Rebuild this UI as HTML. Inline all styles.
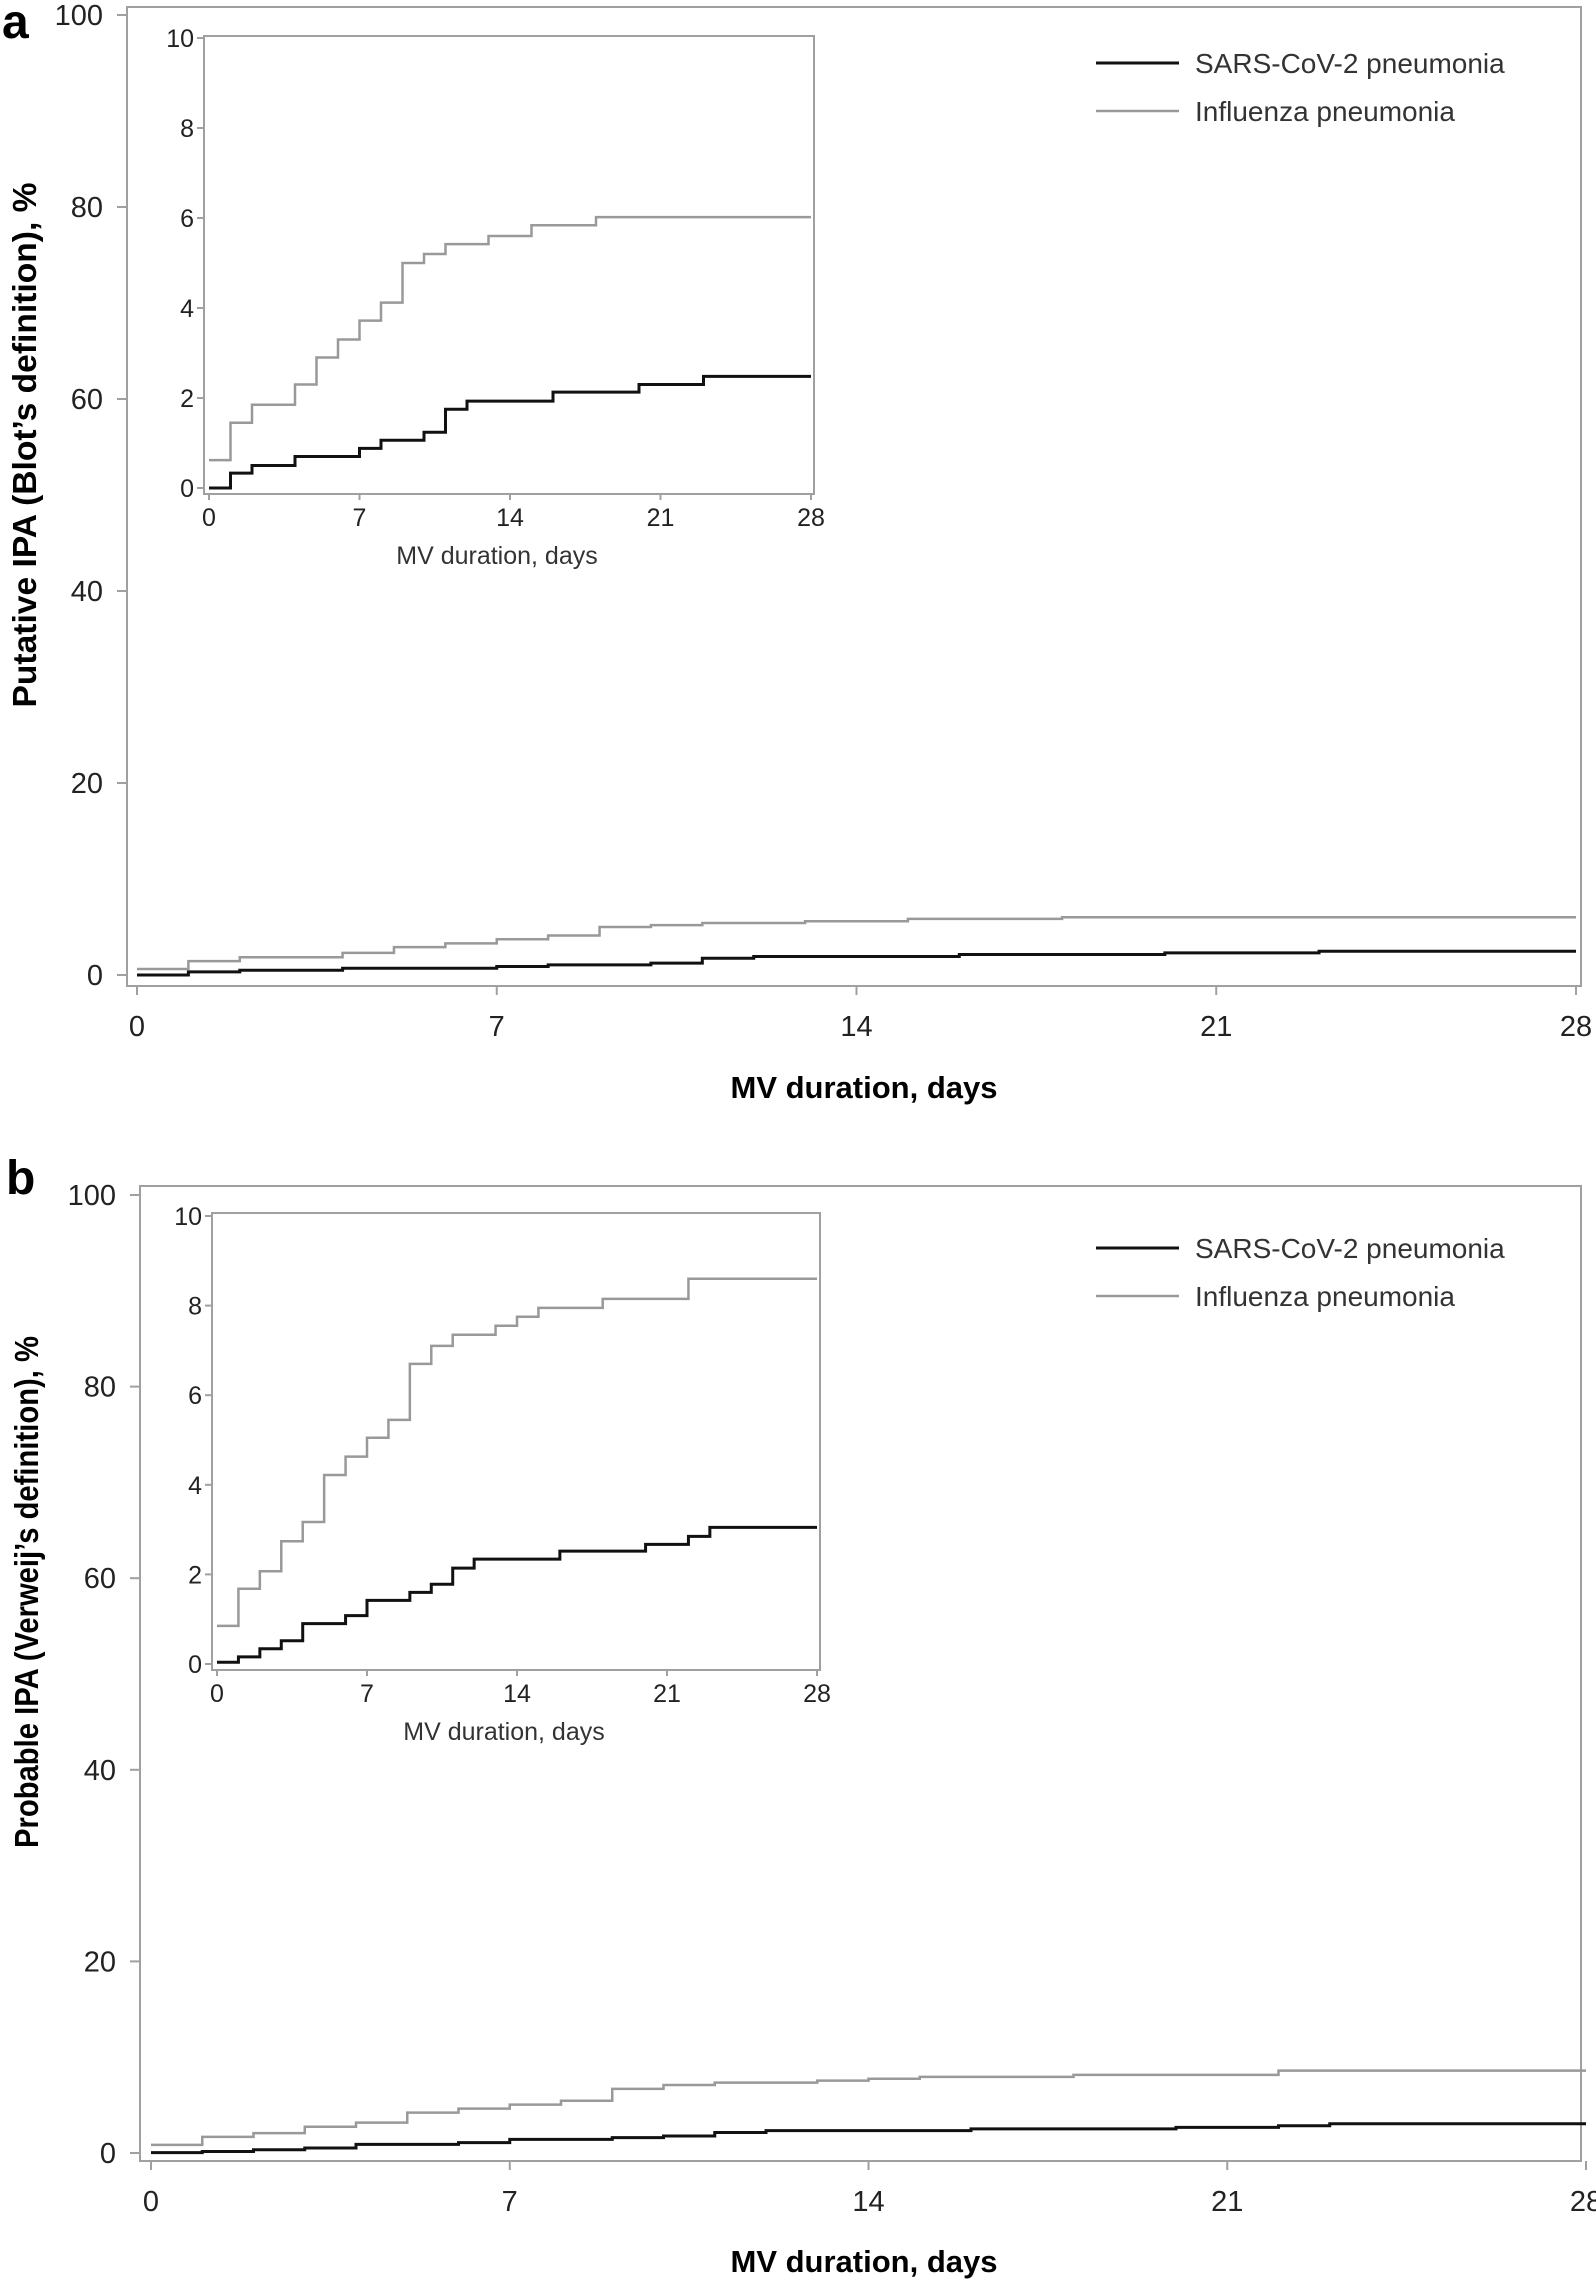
<!DOCTYPE html>
<html><head><meta charset="utf-8">
<style>
html,body{margin:0;padding:0;background:#fff;}
svg{display:block;font-family:"Liberation Sans",sans-serif;}
</style></head>
<body>
<svg id="fig" width="1596" height="2281" viewBox="0 0 1596 2281" xmlns="http://www.w3.org/2000/svg"></svg>
<script>
// ---- data ----
const daysA_flu = [0,1,2,4,5,6,7,8,9,10,11,13,15,18,28];
const valsA_flu = [0.62,1.45,1.85,2.3,2.9,3.3,3.72,4.12,5.0,5.2,5.42,5.6,5.84,6.02,6.02];
const daysA_sars = [0,1,2,4,7,8,10,11,12,16,20,23,28];
const valsA_sars = [0,0.33,0.5,0.7,0.88,1.06,1.24,1.75,1.93,2.13,2.3,2.48,2.48];
const daysB_flu = [0,1,2,3,4,5,6,7,8,9,10,11,13,14,15,18,22,28];
const valsB_flu = [0.85,1.68,2.07,2.74,3.17,4.22,4.63,5.05,5.45,6.7,7.1,7.35,7.55,7.75,7.95,8.15,8.6,8.6];
const daysB_sars = [0,1,2,3,4,6,7,9,10,11,12,16,20,22,23,28];
const valsB_sars = [0.04,0.16,0.34,0.52,0.9,1.08,1.42,1.6,1.78,2.14,2.34,2.52,2.67,2.85,3.05,3.05];
const mainYTicks = [0,20,40,60,80,100];
const insetYTicks = [0,2,4,6,8,10];
const xTicks = [0,7,14,21,28];
const legendLabels = ["SARS-CoV-2 pneumonia","Influenza pneumonia"];

const NS="http://www.w3.org/2000/svg";
const svg=document.getElementById('fig');
function mk(tag,attrs,parent,text){const e=document.createElementNS(NS,tag);for(const k in attrs)e.setAttribute(k,attrs[k]);if(text!==undefined)e.textContent=text;(parent||svg).appendChild(e);return e;}
function lin(d0,d1,r0,r1){return v=>r0+(v-d0)/(d1-d0)*(r1-r0);}
function stepPath(days,vals,sx,sy){let d='M'+sx(days[0])+','+sy(vals[0]);for(let i=1;i<days.length;i++){d+=' H'+sx(days[i])+' V'+sy(vals[i]);}return d;}

function panel(P){
  const g=mk('g',{});
  
  
  const L=mk('text',{x:P.letterX,y:P.letterY,'font-size':48,'font-weight':'bold'},g,P.letter);
  
  const sx=lin(0,28,P.x0,P.x28), sy=lin(0,100,P.y0,P.y100);
  const fr=mk('path',{d:`M${P.axX},${P.frTop} H1581 V${P.base} H${P.axX} Z`,fill:'none',stroke:'#a0a0a0','stroke-width':2},g);
  
  mainYTicks.forEach(t=>{
    mk('line',{x1:P.axX-10,x2:P.axX,y1:sy(t),y2:sy(t),stroke:'#a0a0a0','stroke-width':2},g);
    const tx=mk('text',{x:P.axX-24,y:sy(t)+10,'font-size':29,'text-anchor':'end',fill:'#222'},g,String(t));
    
  });
  xTicks.forEach(t=>{
    mk('line',{x1:sx(t),x2:sx(t),y1:P.base,y2:P.base+9,stroke:'#a0a0a0','stroke-width':2},g);
    const tx=mk('text',{x:sx(t),y:P.base+50,'font-size':29,'text-anchor':'middle',fill:'#222'},g,String(t));
    
  });
  const xt=mk('text',{x:864,y:P.xTitleY,'font-size':31,'font-weight':'bold','text-anchor':'middle'},g,'MV duration, days');
  
  const yt=mk('text',{x:0,y:0,'font-size':33,'font-weight':'bold','text-anchor':'middle',textLength:P.yTitleLen,lengthAdjust:'spacingAndGlyphs',transform:`translate(${P.yTitleX},${P.yTitleY}) rotate(-90)`},g,P.yTitle);
  
  const f=mk('path',{d:stepPath(P.fluD,P.fluV,sx,sy),fill:'none',stroke:'#999','stroke-width':2.5},g);
  
  const s=mk('path',{d:stepPath(P.sarsD,P.sarsV,sx,sy),fill:'none',stroke:'#111','stroke-width':3},g);
  
  const lg=mk('g',{},g);
  
  [['#111',3],['#999',2.5]].forEach((st,i)=>{
    const ly=P.legY+i*48;
    mk('line',{x1:1096,x2:1179,y1:ly,y2:ly,stroke:st[0],'stroke-width':st[1]},lg);
    const t=mk('text',{x:1195,y:ly+10,'font-size':28,fill:'#333'},lg,legendLabels[i]);
    
  });
  const I=P.inset;
  const ig=mk('g',{},g);
  
  const ix=lin(0,28,I.x0,I.x28), iy=lin(0,10,I.y0,I.y10);
  mk('rect',{x:I.l,y:I.t,width:I.r-I.l,height:I.b-I.t,fill:'#fff',stroke:'#a0a0a0','stroke-width':2},ig);
  insetYTicks.forEach(t=>{
    mk('line',{x1:I.l-7,x2:I.l,y1:iy(t),y2:iy(t),stroke:'#a0a0a0','stroke-width':2},ig);
    const tx=mk('text',{x:I.l-10,y:iy(t)+9,'font-size':25,'text-anchor':'end',fill:'#222'},ig,String(t));
    
  });
  xTicks.forEach(t=>{
    mk('line',{x1:ix(t),x2:ix(t),y1:I.b,y2:I.b+6,stroke:'#a0a0a0','stroke-width':2},ig);
    const tx=mk('text',{x:ix(t),y:I.b+32,'font-size':25,'text-anchor':'middle',fill:'#222'},ig,String(t));
    
  });
  const it=mk('text',{x:(I.l+I.r)/2-12,y:I.b+70,'font-size':25,'text-anchor':'middle',fill:'#333'},ig,'MV duration, days');
  
  const f2=mk('path',{d:stepPath(P.fluD,P.fluV,ix,iy),fill:'none',stroke:'#999','stroke-width':2.5},ig);
  
  const s2=mk('path',{d:stepPath(P.sarsD,P.sarsV,ix,iy),fill:'none',stroke:'#111','stroke-width':3},ig);
  
}

panel({name:'panel-a',letter:'a',letterX:2,letterY:38,axX:127,frTop:7,base:986,x0:137,x28:1576,y0:975,y100:15,
  xTitleY:1098,yTitleX:36,yTitleY:445,yTitleLen:525,yTitle:"Putative IPA (Blot’s definition), %",legY:63,
  fluD:daysA_flu,fluV:valsA_flu,sarsD:daysA_sars,sarsV:valsA_sars,
  inset:{l:204,r:814,t:36,b:494,x0:209,x28:811,y0:488,y10:38}});
panel({name:'panel-b',letter:'b',letterX:6,letterY:1194,axX:140,frTop:1186,base:2161,x0:151,x28:1586,y0:2153,y100:1195,
  xTitleY:2272,yTitleX:38,yTitleY:1592,yTitleLen:512,yTitle:"Probable IPA (Verweij’s definition), %",legY:1248,
  fluD:daysB_flu,fluV:valsB_flu,sarsD:daysB_sars,sarsV:valsB_sars,
  inset:{l:212,r:820,t:1213,b:1670,x0:217,x28:817,y0:1664,y10:1216}});
</script>
</body></html>
